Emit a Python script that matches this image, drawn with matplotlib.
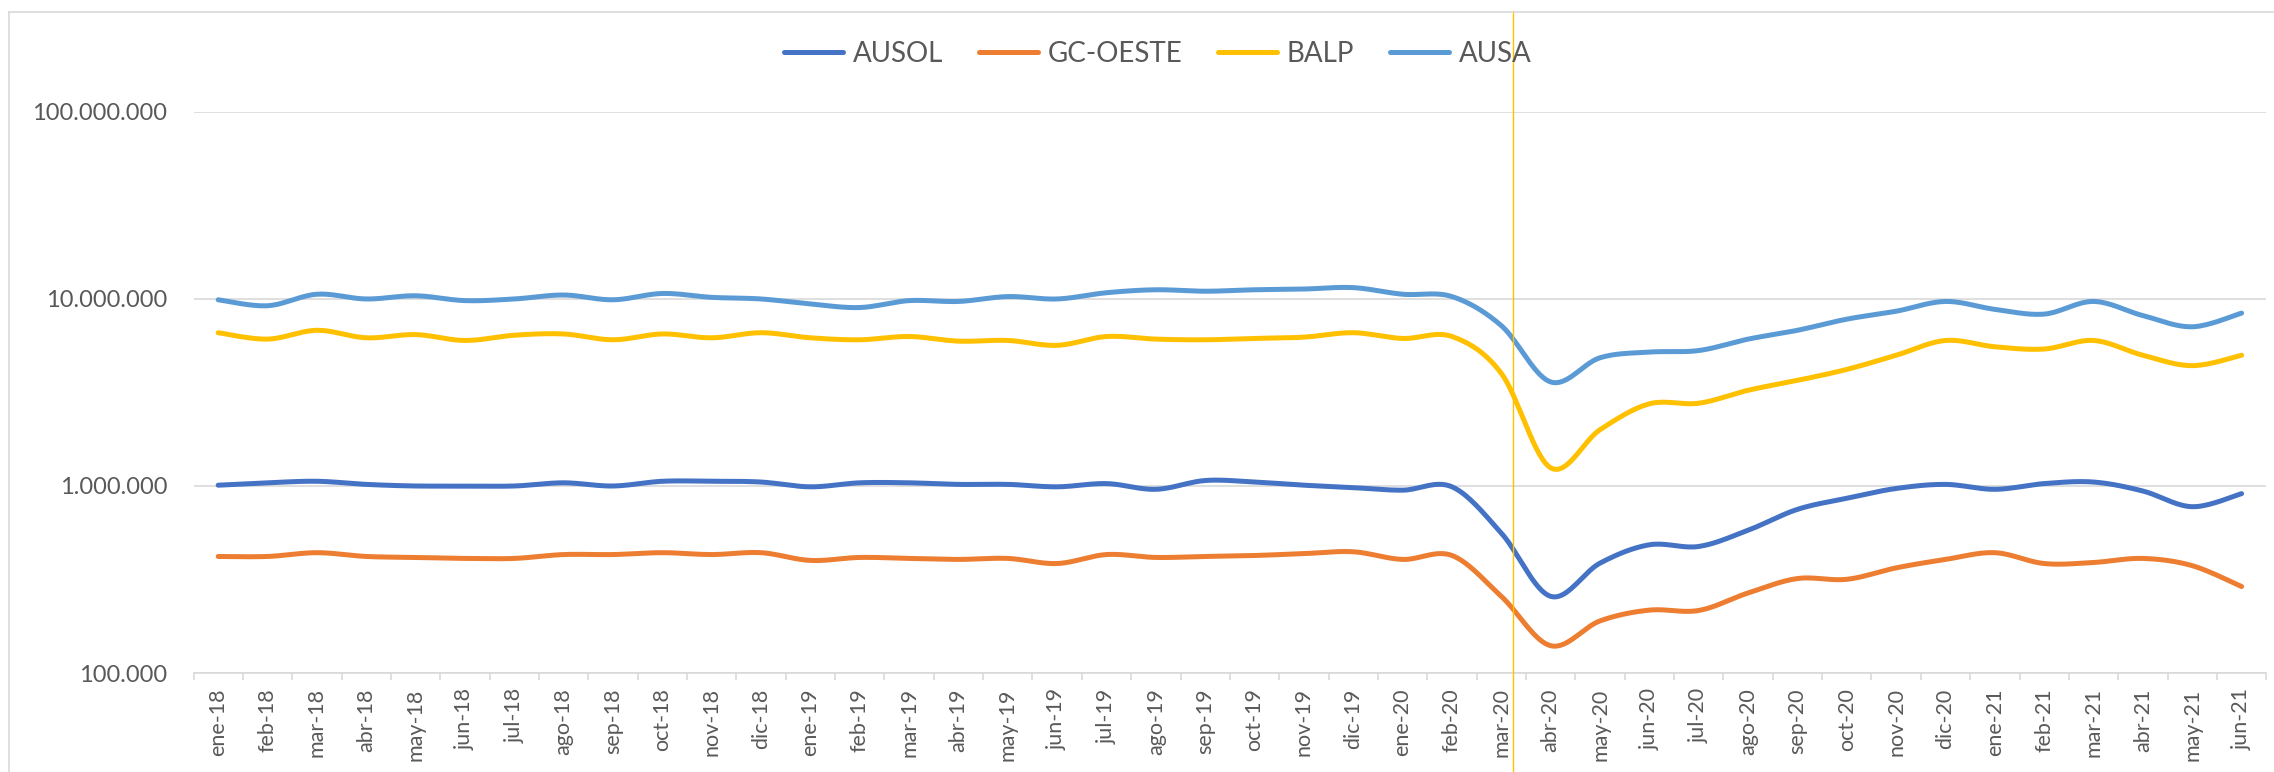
import numpy as np
import matplotlib
matplotlib.use('Agg')
import matplotlib.pyplot as plt
from matplotlib.lines import Line2D
from matplotlib.ticker import FixedLocator, FuncFormatter, NullLocator

plt.rcParams['font.family'] = ['Lato', 'DejaVu Sans']

months = ['ene', 'feb', 'mar', 'abr', 'may', 'jun', 'jul', 'ago', 'sep', 'oct', 'nov', 'dic']
labels = [f'{m}-{y}' for y in (18, 19, 20, 21) for m in months][:42]

ausol = [1010000, 1040000, 1060000, 1020000, 1000000, 1000000, 1000000, 1040000, 1000000, 1060000,
         1060000, 1050000, 990000, 1040000, 1040000, 1020000, 1020000, 990000, 1030000, 960000,
         1070000, 1050000, 1010000, 980000, 950000, 990000, 560000, 257000, 387000, 485000,
         475000, 580000, 750000, 860000, 970000, 1020000, 960000, 1030000, 1050000, 940000,
         775000, 910000]
gc_oeste = [420000, 420000, 440000, 420000, 415000, 410000, 410000, 430000, 430000, 440000,
            430000, 440000, 400000, 415000, 410000, 405000, 410000, 385000, 430000, 415000,
            420000, 425000, 435000, 445000, 405000, 425000, 257000, 140000, 190000, 217000,
            216000, 268000, 320000, 317000, 365000, 405000, 440000, 385000, 390000, 410000,
            375000, 290000]
balp = [6600000, 6100000, 6800000, 6200000, 6450000, 6000000, 6400000, 6500000, 6050000, 6500000,
        6200000, 6600000, 6200000, 6050000, 6300000, 5950000, 6000000, 5650000, 6300000, 6100000,
        6050000, 6150000, 6250000, 6600000, 6150000, 6300000, 4000000, 1250000, 2000000, 2750000,
        2770000, 3250000, 3670000, 4200000, 5000000, 6000000, 5550000, 5400000, 6000000, 5000000,
        4400000, 5000000]
ausa = [9900000, 9200000, 10600000, 10000000, 10400000, 9800000, 10000000, 10500000, 9900000, 10700000,
        10200000, 10000000, 9400000, 9000000, 9800000, 9700000, 10300000, 10000000, 10800000, 11200000,
        11000000, 11200000, 11300000, 11500000, 10600000, 10300000, 7200000, 3600000, 4850000, 5200000,
        5300000, 6100000, 6800000, 7800000, 8600000, 9700000, 8800000, 8300000, 9700000, 8150000,
        7100000, 8400000]

series = [('AUSOL', ausol, '#4472C4'), ('GC-OESTE', gc_oeste, '#ED7D31'),
          ('BALP', balp, '#FFC000'), ('AUSA', ausa, '#5B9BD5')]


def smooth(vals, n=20):
    # Excel-like smoothed line: Bezier segments through the points, in log space
    ly = np.log10(np.asarray(vals, dtype=float))
    x = np.arange(len(ly), dtype=float)
    px = np.concatenate([[x[0]], x, [x[-1]]])
    py = np.concatenate([[ly[0]], ly, [ly[-1]]])
    t = np.linspace(0, 1, n)[:, None]
    xs, ys = [], []
    for i in range(len(ly) - 1):
        p0 = np.array([px[i], py[i]]); p1 = np.array([px[i + 1], py[i + 1]])
        p2 = np.array([px[i + 2], py[i + 2]]); p3 = np.array([px[i + 3], py[i + 3]])
        c1 = p1 + (p2 - p0) / 6
        c2 = p2 - (p3 - p1) / 6
        b = (1 - t) ** 3 * p1 + 3 * (1 - t) ** 2 * t * c1 + 3 * (1 - t) * t ** 2 * c2 + t ** 3 * p2
        xs.append(b[:, 0]); ys.append(b[:, 1])
    return np.concatenate(xs), 10 ** np.concatenate(ys)


fig = plt.figure(figsize=(22.74, 7.72), dpi=100)
ax = fig.add_axes([0.0851, 0.1282, 0.9115, 0.7268])

for name, vals, col in series:
    sx, sy = smooth(vals)
    ax.plot(sx, sy, color=col, lw=3.6, solid_capstyle='round', label=name)

ax.set_yscale('log')
ax.set_ylim(1e5, 1e8)
ax.set_xlim(-0.5, len(labels) - 0.5)

ax.yaxis.set_major_locator(FixedLocator([1e5, 1e6, 1e7, 1e8]))
ax.yaxis.set_minor_locator(NullLocator())
ax.yaxis.set_major_formatter(FuncFormatter(lambda v, p: f'{int(round(v)):,}'.replace(',', '.')))
ax.tick_params(axis='y', length=0, pad=19, labelsize=17, labelcolor='#595959')
ax.grid(axis='y', color='#D9D9D9', lw=1.2)
ax.set_axisbelow(True)

ax.set_xticks(range(len(labels)))
ax.set_xticklabels(labels, rotation=90, fontsize=15.5, color='#595959')
ax.set_xticks(np.arange(-0.5, len(labels), 1), minor=True)
ax.tick_params(axis='x', which='major', length=0, pad=11)
ax.tick_params(axis='x', which='minor', length=5, color='#D9D9D9', width=1.2)

for s in ['top', 'right', 'left']:
    ax.spines[s].set_visible(False)
ax.spines['bottom'].set_color('#D9D9D9')
ax.spines['bottom'].set_linewidth(1.2)

# vertical marker line at the start of the lockdown
ax.axvline(26.23, ymin=-0.18, ymax=1.18, color='#FFC000', lw=1.0, clip_on=False, zorder=5)

# chart border
fig.add_artist(Line2D([9 / 2274, 1.0], [1 - 12 / 772, 1 - 12 / 772], color='#D9D9D9', lw=1.2))
fig.add_artist(Line2D([9 / 2274, 9 / 2274], [0, 1 - 12 / 772], color='#D9D9D9', lw=1.2))

fig.legend(loc='center', bbox_to_anchor=(1158 / 2274, 1 - 54 / 772), ncol=4, frameon=False,
           fontsize=20, labelcolor='#595959', handlelength=2.1, handletextpad=0.36,
           columnspacing=1.3)

fig.savefig('out.png', dpi=100)
